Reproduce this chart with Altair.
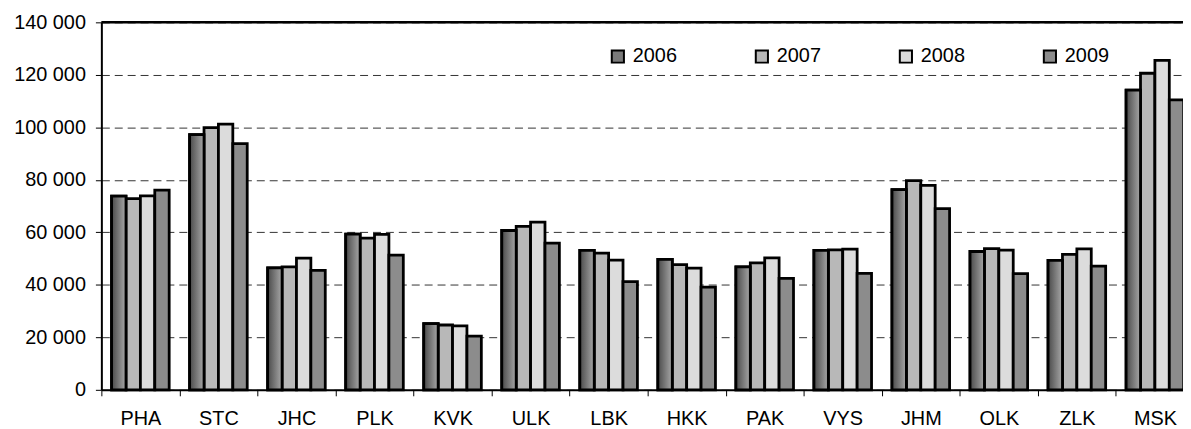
import altair as alt
import pandas as pd

regions = ["PHA", "STC", "JHC", "PLK", "KVK", "ULK", "LBK", "HKK", "PAK", "VYS", "JHM", "OLK", "ZLK", "MSK"]
years = ["2006", "2007", "2008", "2009"]
v2006 = [73800, 97200, 46500, 59300, 25200, 60700, 53100, 49700, 46800, 53100, 76300, 52700, 49300, 114200]
v2007 = [72800, 99900, 46800, 57800, 24700, 62300, 52100, 47700, 48400, 53300, 79700, 53800, 51600, 120600]
v2008 = [73900, 101200, 50200, 59200, 24400, 63900, 49400, 46400, 50300, 53600, 77900, 53200, 53700, 125500]
v2009 = [76100, 93800, 45500, 51300, 20500, 55900, 41200, 39100, 42500, 44400, 69000, 44300, 47100, 110500]

series = {"2006": v2006, "2007": v2007, "2008": v2008, "2009": v2009}
rows = []
for y in years:
    for r, v in zip(regions, series[y]):
        rows.append({"region": r, "year": y, "value": v})
df = pd.DataFrame(rows)

FONT = "Liberation Sans"

x_enc = alt.X("region:N", sort=regions, title=None,
              scale=alt.Scale(range=[0, 1100], paddingInner=0, paddingOuter=0),
              axis=alt.Axis(tickBand="extent", labelAngle=0, labelFont=FONT, labelFontSize=20,
                            labelColor="black", labelPadding=13, tickSize=6, tickColor="black",
                            tickWidth=1, domainColor="black", domainWidth=2, labelOverlap=False,
                            labelBound=False, grid=False))
xo_enc = alt.XOffset("year:N", scale=alt.Scale(domain=years, paddingInner=0, paddingOuter=0.71))
y_enc = alt.Y("value:Q", title=None,
              scale=alt.Scale(domain=[0, 140000], nice=False),
              axis=alt.Axis(values=list(range(0, 140001, 20000)),
                            labelExpr="replace(format(datum.value, ','), ',', ' ')",
                            labelFont=FONT, labelFontSize=20, labelColor="black", labelPadding=10,
                            tickSize=6, tickColor="black", tickWidth=1,
                            domainColor="black", domainWidth=2,
                            grid=True, gridDash=[8, 5], gridColor="#333333", gridWidth=1))

bars = alt.Chart(df).mark_bar(stroke="black", strokeWidth=2.8).encode(
    x=x_enc, xOffset=xo_enc, y=y_enc,
    color=alt.Color("year:N", scale=alt.Scale(domain=years,
                                               range=["#7a7a7a", "#b8b8b8", "#dcdcdc", "#8c8c8c"]),
                    legend=alt.Legend(title=None, orient="none", legendX=510, legendY=24,
                                      direction="horizontal", columns=4, columnPadding=74,
                                      symbolType="square", symbolSize=150, symbolStrokeColor="black",
                                      symbolStrokeWidth=2, labelFont=FONT, labelFontSize=20,
                                      labelColor="black", labelOffset=5, padding=0))
)

grad = alt.Gradient(gradient="linear", x1=0, y1=0, x2=1, y2=0,
                    stops=[alt.GradientStop(offset=0, color="#4a4a4a"),
                           alt.GradientStop(offset=1, color="#a8a8a8")])
bars06 = alt.Chart(df).transform_filter(alt.datum.year == "2006").mark_bar(
    stroke="black", strokeWidth=2.8, fill=grad).encode(x=x_enc, xOffset=xo_enc, y=y_enc)

border = alt.Chart(pd.DataFrame({"a": [0]})).mark_rule(color="black", strokeWidth=2.5).encode(
    x=alt.value(0), x2=alt.value(1100), y=alt.value(0))

chart = alt.layer(bars, bars06, border).properties(
    width=1089, height=370,
    autosize=alt.AutoSizeParams(type="none"),
    padding={"left": 94, "top": 13, "right": 0, "bottom": 37},
).configure_view(stroke=None).configure(background="white")

chart.save("out.html", embed_options={"renderer": "svg", "actions": False})
